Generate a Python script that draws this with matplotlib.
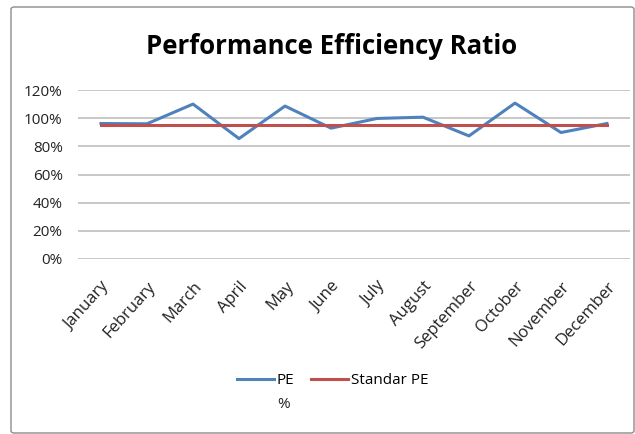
import matplotlib
matplotlib.use("Agg")
import matplotlib.pyplot as plt
from matplotlib.patches import FancyBboxPatch
from matplotlib.ticker import FuncFormatter, MultipleLocator

months = ["January", "February", "March", "April", "May", "June", "July",
          "August", "September", "October", "November", "December"]
pe_values = [0.962, 0.960, 1.100, 0.855, 1.086, 0.929, 0.998, 1.007,
             0.874, 1.107, 0.898, 0.962]
standard_pe = [0.95] * 12
series_labels = ["PE", "Standar PE"]
pe_label_suffix = "%"

plt.rcParams['font.family'] = ['Open Sans', 'DejaVu Sans']

W, H = 635, 434
fig = plt.figure(figsize=(W / 100, H / 100), dpi=100)

# chart border
border = FancyBboxPatch((11 / W, 1 / H), (W - 12) / W, (H - 8) / H,
                        boxstyle="round,pad=0,rounding_size=0.005",
                        transform=fig.transFigure, fill=False,
                        edgecolor="#8c8c8c", linewidth=1.0)
fig.patches.append(border)

ax = fig.add_axes([78 / W, 1 - 259 / H, (630 - 78) / W, (259 - 90) / H])
x = list(range(len(months)))
ax.plot(x, pe_values, color="#4F81BD", linewidth=2.2, label=series_labels[0],
        zorder=3)
ax.plot(x, standard_pe, color="#C0504D", linewidth=2.2, label=series_labels[1],
        zorder=3)

ax.set_xlim(-0.5, 11.5)
ax.set_ylim(0, 1.2)
ax.yaxis.set_major_locator(MultipleLocator(0.2))
ax.yaxis.set_major_formatter(FuncFormatter(lambda v, p: f"{v*100:.0f}%"))
ax.grid(axis="y", color="#BFBFBF", linewidth=1.2)
ax.set_axisbelow(True)
for s in ax.spines.values():
    s.set_visible(False)
ax.tick_params(axis="both", length=0, colors="#222222")
ax.tick_params(axis="y", pad=11, labelsize=11)
ax.set_xticks(x)
ax.set_xticklabels(months, rotation=48, ha="right", rotation_mode="anchor",
                   fontsize=12)
ax.tick_params(axis="x", pad=14)

fig.text(0.522, 1 - 46 / H, "Performance Efficiency Ratio",
         ha="center", va="center", fontsize=18.5, fontweight="bold",
         family=["Open Sans", "DejaVu Sans"], color="black")

leg = fig.legend(loc="center", bbox_to_anchor=(0.524, 1 - 381 / H), ncol=2,
                 frameon=False, fontsize=11, handlelength=2.4,
                 handletextpad=0.2, columnspacing=1.1)

fig.canvas.draw()
bb = leg.get_texts()[0].get_window_extent()
fig.text(bb.x0 / W, (bb.y0 - 23) / H, pe_label_suffix,
         ha="left", va="bottom", fontsize=11, color="#222222")

fig.savefig("out.png", dpi=100)
